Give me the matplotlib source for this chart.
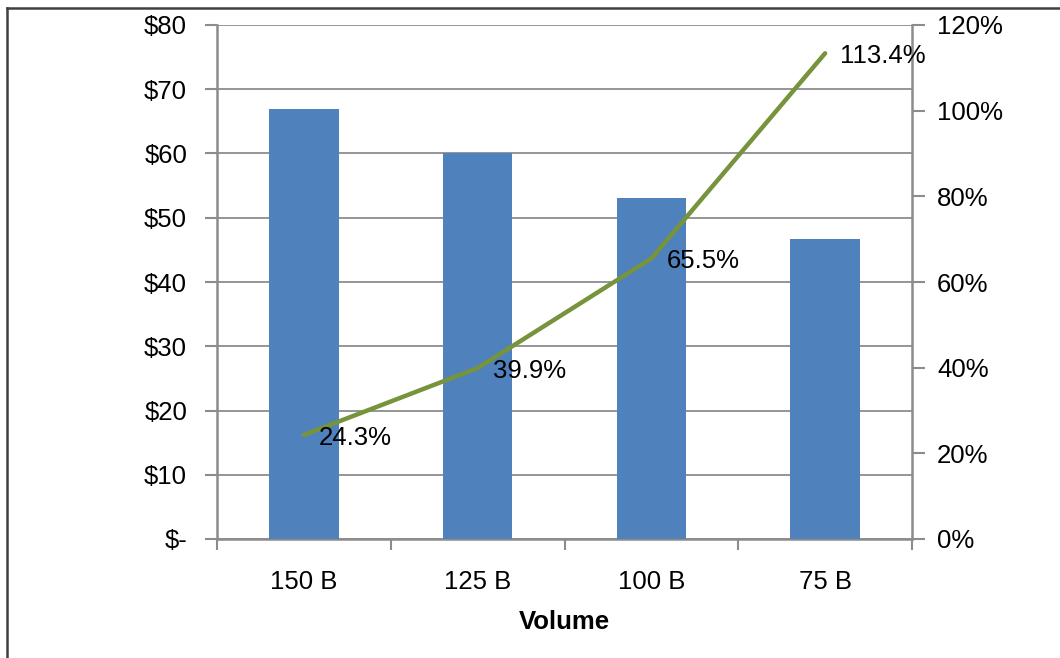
import matplotlib.pyplot as plt
from matplotlib.lines import Line2D
from matplotlib.ticker import FuncFormatter

categories = ['150 B', '125 B', '100 B', '75 B']
prices = [67.0, 60.0, 53.0, 46.7]
growth = [24.3, 39.9, 65.5, 113.4]

bar_color = '#4F81BD'
line_color = '#77933C'
grid_color = '#8C8C8C'

plt.rcParams['font.family'] = ['Liberation Sans', 'DejaVu Sans']
plt.rcParams['font.size'] = 18.5

fig = plt.figure(figsize=(10.6, 6.58), dpi=100)
ax = fig.add_axes([217 / 1060, 1 - 539 / 658, 695 / 1060, 514 / 658])
ax2 = ax.twinx()

x = list(range(len(categories)))
ax.bar(x, prices, width=0.4, color=bar_color, zorder=3)
ax.set_xlim(-0.5, len(categories) - 0.5)
ax.set_ylim(0, 80)
ax.set_yticks(range(0, 81, 10))
ax.yaxis.set_major_formatter(FuncFormatter(lambda v, p: '$-' if v == 0 else '${:.0f}'.format(v)))
ax.grid(axis='y', color=grid_color, linewidth=1.3, zorder=0)
ax.set_axisbelow(True)

ax.set_xticks(x)
ax.set_xticklabels(categories)
ax.set_xticks([i + 0.5 for i in range(-1, len(categories))], minor=True)
ax.tick_params(axis='x', which='major', length=0, pad=22)
ax.tick_params(axis='x', which='minor', length=8, width=1.5, color=grid_color, direction='out')
ax.tick_params(axis='y', length=9, width=1.5, color=grid_color, direction='out', pad=12.5)
ax.set_xlabel('Volume', fontweight='bold', labelpad=12)

for s in ['top', 'right']:
    ax.spines[s].set_visible(False)
for s in ['left', 'bottom']:
    ax.spines[s].set_color(grid_color)
    ax.spines[s].set_linewidth(1.8)

ax2.plot(x, growth, color=line_color, linewidth=3.2, solid_capstyle='round', zorder=4)
ax2.set_ylim(0, 120)
ax2.set_yticks(range(0, 121, 20))
ax2.yaxis.set_major_formatter(FuncFormatter(lambda v, p: '{:.0f}%'.format(v)))
ax2.tick_params(axis='y', length=9, width=1.5, color=grid_color, direction='out', pad=9)
for s in ['top', 'left', 'bottom']:
    ax2.spines[s].set_visible(False)
ax2.spines['right'].set_color(grid_color)
ax2.spines['right'].set_linewidth(1.8)

for xi, g in zip(x, growth):
    ax2.annotate('{:.1f}%'.format(g), (xi, g), xytext=(11, -2), textcoords='offset points',
                 ha='left', va='center', zorder=5)

fig.add_artist(Line2D([7 / 1060, 7 / 1060], [0, 1 - 8 / 658], color='#404040', linewidth=1.8))
fig.add_artist(Line2D([7 / 1060, 1], [1 - 8 / 658, 1 - 8 / 658], color='#404040', linewidth=1.8))

fig.savefig('out.png', dpi=100)
